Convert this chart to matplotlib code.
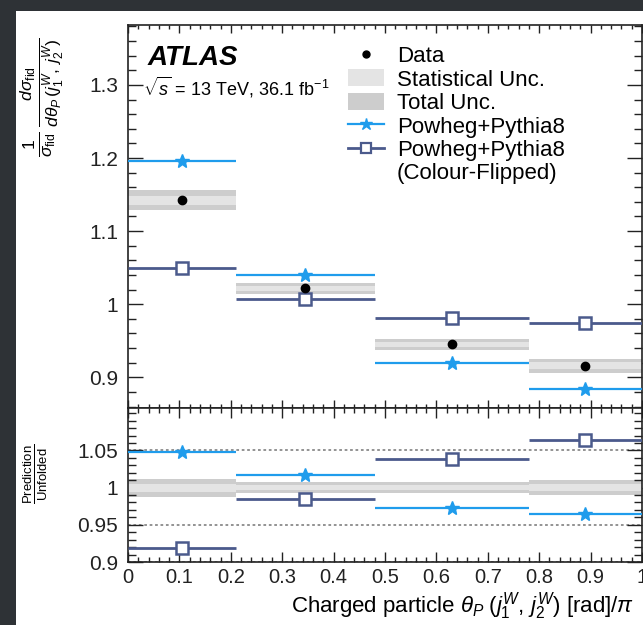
import matplotlib
matplotlib.use("Agg")
import matplotlib.pyplot as plt
import numpy as np
from matplotlib.lines import Line2D
from matplotlib.patches import Patch, Rectangle
from matplotlib.ticker import MultipleLocator, FixedLocator, FuncFormatter

plt.rcParams['font.family'] = ['Liberation Sans', 'DejaVu Sans']
plt.rcParams['mathtext.fontset'] = 'custom'
plt.rcParams['mathtext.rm'] = 'Liberation Sans'
plt.rcParams['mathtext.it'] = 'Liberation Sans:italic'
plt.rcParams['mathtext.bf'] = 'Liberation Sans:bold'

# ---------------- data ----------------
bin_edges = [0.0, 0.21, 0.48, 0.78, 1.0]
data_vals = [1.142, 1.022, 0.945, 0.916]
tot_unc = [0.0137, 0.0075, 0.0070, 0.0096]
stat_unc = [0.0060, 0.0035, 0.0033, 0.0045]
powheg_vals = [1.196, 1.040, 0.919, 0.884]
flipped_vals = [1.050, 1.007, 0.981, 0.974]

main_yticks = [0.9, 1.0, 1.1, 1.2, 1.3]
ratio_yticks = [0.9, 0.95, 1.0, 1.05]
x_ticks = [0, 0.1, 0.2, 0.3, 0.4, 0.5, 0.6, 0.7, 0.8, 0.9, 1.0]

legend_labels = ["Data", "Statistical Unc.", "Total Unc.", "Powheg+Pythia8",
                 "Powheg+Pythia8", "(Colour-Flipped)"]

# ---------------- styles ----------------
C_PP = '#1f9cec'
C_CF = '#4b5a8c'
C_STAT = '#e4e4e4'
C_TOT = '#cdcdcd'

W, H = 643, 625
fig = plt.figure(figsize=(W / 100, H / 100), dpi=100)
fig.patch.set_facecolor('#2e3236')
fig.patches.append(Rectangle((16 / W, 0), 1, 1 - 11 / H, transform=fig.transFigure,
                             facecolor='white', edgecolor='none', zorder=-10))

def fx(px):
    return px / W

def fy(py):
    return 1 - py / H

left, right = 128, 642
top_main, mid, bot = 25, 408, 562
ax = fig.add_axes([fx(left), fy(mid), (right - left) / W, (mid - top_main) / H])
axr = fig.add_axes([fx(left), fy(bot), (right - left) / W, (bot - mid) / H])

edges = np.array(bin_edges)
lo, hi = edges[:-1], edges[1:]
widths = hi - lo
centers = 0.5 * (lo + hi)
d = np.array(data_vals)
tu = np.array(tot_unc)
su = np.array(stat_unc)
pp = np.array(powheg_vals)
cf = np.array(flipped_vals)

# ---- main panel ----
ax.bar(lo, 2 * tu, bottom=d - tu, width=widths, align='edge', color=C_TOT,
       edgecolor='none', zorder=1)
ax.bar(lo, 2 * su, bottom=d - su, width=widths, align='edge', color=C_STAT,
       edgecolor='none', zorder=2)
ax.hlines(pp, lo, hi, colors=C_PP, lw=1.6, zorder=3)
ax.plot(centers, pp, ls='none', marker='*', ms=10, color=C_PP, zorder=4)
ax.hlines(cf, lo, hi, colors=C_CF, lw=2.0, zorder=3)
ax.plot(centers, cf, ls='none', marker='s', ms=8, mfc='white', mec=C_CF, mew=1.8, zorder=4)
ax.plot(centers, d, ls='none', marker='o', ms=6, color='black', zorder=5)

ax.set_xlim(0, 1)
ax.set_ylim(0.858, 1.382)
ax.yaxis.set_major_locator(FixedLocator(main_yticks))
ax.yaxis.set_minor_locator(MultipleLocator(0.02))
ax.yaxis.set_major_formatter(FuncFormatter(lambda v, p: '%g' % round(v, 3)))
ax.xaxis.set_major_locator(FixedLocator(x_ticks))
ax.xaxis.set_minor_locator(MultipleLocator(0.02))
ax.tick_params(axis='x', labelbottom=False)

# ---- ratio panel ----
rel_t = tu / d
rel_s = su / d
for yv in ratio_yticks:
    axr.axhline(yv, color='#8a8a8a', ls=(0, (1.5, 1.5)), lw=1.3, zorder=0)
axr.bar(lo, 2 * rel_t, bottom=1 - rel_t, width=widths, align='edge', color=C_TOT,
        edgecolor='none', zorder=1)
axr.bar(lo, 2 * rel_s, bottom=1 - rel_s, width=widths, align='edge', color=C_STAT,
        edgecolor='none', zorder=2)
r_pp = pp / d
r_cf = cf / d
axr.hlines(r_pp, lo, hi, colors=C_PP, lw=1.6, zorder=3)
axr.plot(centers, r_pp, ls='none', marker='*', ms=10, color=C_PP, zorder=4)
axr.hlines(r_cf, lo, hi, colors=C_CF, lw=2.0, zorder=3)
axr.plot(centers, r_cf, ls='none', marker='s', ms=8, mfc='white', mec=C_CF, mew=1.8, zorder=4)

axr.set_xlim(0, 1)
axr.set_ylim(0.9, 1.107)
axr.yaxis.set_major_locator(FixedLocator(ratio_yticks))
axr.yaxis.set_minor_locator(MultipleLocator(0.01))
axr.yaxis.set_major_formatter(FuncFormatter(lambda v, p: '%g' % round(v, 3)))
axr.xaxis.set_major_locator(FixedLocator(x_ticks))
axr.xaxis.set_minor_locator(MultipleLocator(0.02))
axr.xaxis.set_major_formatter(FuncFormatter(lambda v, p: '%g' % round(v, 3)))

for a in (ax, axr):
    for s in a.spines.values():
        s.set_linewidth(1.2)
        s.set_color('#222222')
    a.tick_params(which='both', direction='in', top=True, right=True,
                  labelsize=15, colors='#222222', width=1.0)
    a.tick_params(axis='y', which='major', length=11, pad=7)
    a.tick_params(axis='y', which='minor', length=5.5)
ax.tick_params(axis='x', which='major', length=6)
ax.tick_params(axis='x', which='minor', length=3)
axr.tick_params(axis='x', which='major', length=7, pad=4, labelsize=14.5)
axr.tick_params(axis='x', which='minor', length=3.5)

# ---- texts ----
fig.text(fx(148), fy(58), 'ATLAS', fontsize=20, fontweight='bold', fontstyle='italic',
         va='center', ha='left')
fig.text(fx(143), fy(87), r'$\sqrt{s}$ = 13 TeV, 36.1 fb$^{-1}$', fontsize=13,
         va='center', ha='left')

fig.text(fx(42), fy(38),
         r'$\frac{1}{\sigma_{\rm fid}}\,\frac{d\sigma_{\rm fid}}{d\theta_P\,(j_1^W,\,j_2^W)}$',
         rotation=90, fontsize=18, va='top', ha='center')
fig.text(fx(36), fy(474), r'$\frac{\rm Prediction}{\rm Unfolded}$',
         rotation=90, fontsize=13.5, va='center', ha='center')
fig.text(fx(634), fy(606), r'Charged particle $\theta_P\;(j_1^W,\,j_2^W)$ [rad]/$\pi$',
         fontsize=16, va='center', ha='right')

# ---- legend ----
handles = [
    Line2D([], [], ls='none', marker='o', ms=5, color='black'),
    Patch(facecolor=C_STAT, edgecolor='none'),
    Patch(facecolor=C_TOT, edgecolor='none'),
    Line2D([], [], color=C_PP, lw=1.6, marker='*', ms=9),
    Line2D([], [], color=C_CF, lw=2.0, marker='s', ms=7, mfc='white', mec=C_CF, mew=1.6),
    Line2D([], [], ls='none'),
]
leg = fig.legend(handles, legend_labels, loc='upper left',
                 bbox_to_anchor=(fx(348), fy(46)), frameon=False, fontsize=16,
                 handlelength=1.6, handleheight=0.8, handletextpad=0.6,
                 labelspacing=0.1, borderaxespad=0, borderpad=0)

fig.savefig('out.png', dpi=100, facecolor=fig.get_facecolor())
